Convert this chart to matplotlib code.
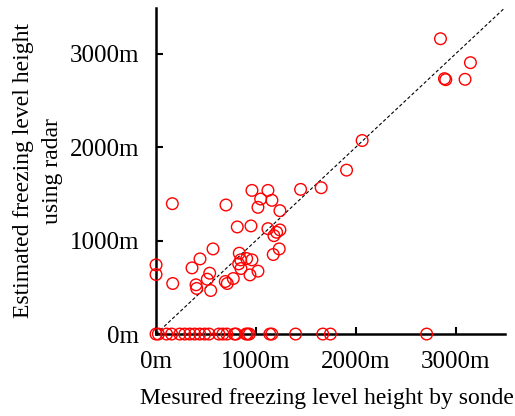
import matplotlib
matplotlib.use("Agg")
import matplotlib.pyplot as plt

plt.rcParams["font.family"] = ["Liberation Serif", "DejaVu Serif"]

# sonde (x) vs radar (y) freezing level heights, metres
sonde = [2847, 3147, 2887, 2900, 3093, 2063, 1907, 1653, 1447, 960, 1120, 1047, 1160,
         1020, 1240, 163, 700, 813, 950, 1120, 1240, 1207, 1180, 1233, 1173, 570, 833,
         440, 360, 847, 827, 850, 907, 960, 940, 1020, 0, 0, 537, 513, 400, 407, 547,
         167, 693, 713, 773]
radar = [3160, 2904, 2733, 2722, 2726, 2071, 1754, 1566, 1548, 1537, 1537, 1445, 1431,
         1356, 1320, 1395, 1381, 1146, 1157, 1128, 1114, 1089, 1053, 911, 851, 911, 865,
         804, 708, 794, 751, 701, 808, 794, 633, 673, 740, 637, 651, 587, 527, 488, 466,
         541, 562, 541, 594]
# cases where radar gave no estimate (0 m)
sonde_zero = [0, 23, 106, 156, 238, 288, 338, 387, 437, 487, 530, 629, 669, 709, 785,
              801, 901, 917, 934, 1139, 1159, 1397, 1669, 1745, 2709]
radar_zero = [0] * len(sonde_zero)

ticks = [0, 1000, 2000, 3000]
tick_labels = ["0m", "1000m", "2000m", "3000m"]
lim = 3490

fig = plt.figure(figsize=(5.15, 4.16), dpi=100)
ax = fig.add_axes([0.303, 0.197, 0.677, 0.784])

ax.plot([0, lim], [0, lim], color="black", linestyle="--", linewidth=0.8,
        dashes=(3, 2), zorder=1)
ax.scatter(sonde + sonde_zero, radar + radar_zero, s=70, facecolors="none",
           edgecolors="red", linewidths=1.0, zorder=3, clip_on=False)

ax.set_xlim(0, lim)
ax.set_ylim(0, lim)
ax.set_xticks(ticks)
ax.set_xticklabels(tick_labels)
ax.set_yticks(ticks)
ax.set_yticklabels(tick_labels)
for s in ["top", "right"]:
    ax.spines[s].set_visible(False)
for s in ["left", "bottom"]:
    ax.spines[s].set_linewidth(1.8)
ax.tick_params(direction="in", length=5, width=1.5, labelsize=18, pad=12)

ax.set_xlabel("Mesured freezing level height by sonde", fontsize=17, labelpad=11)
ax.xaxis.set_label_coords(0.489, -0.165)
ax.set_ylabel("Estimated freezing level height\nusing radar", fontsize=17,
              labelpad=5, linespacing=1.5)

fig.savefig("out.png", dpi=100)
